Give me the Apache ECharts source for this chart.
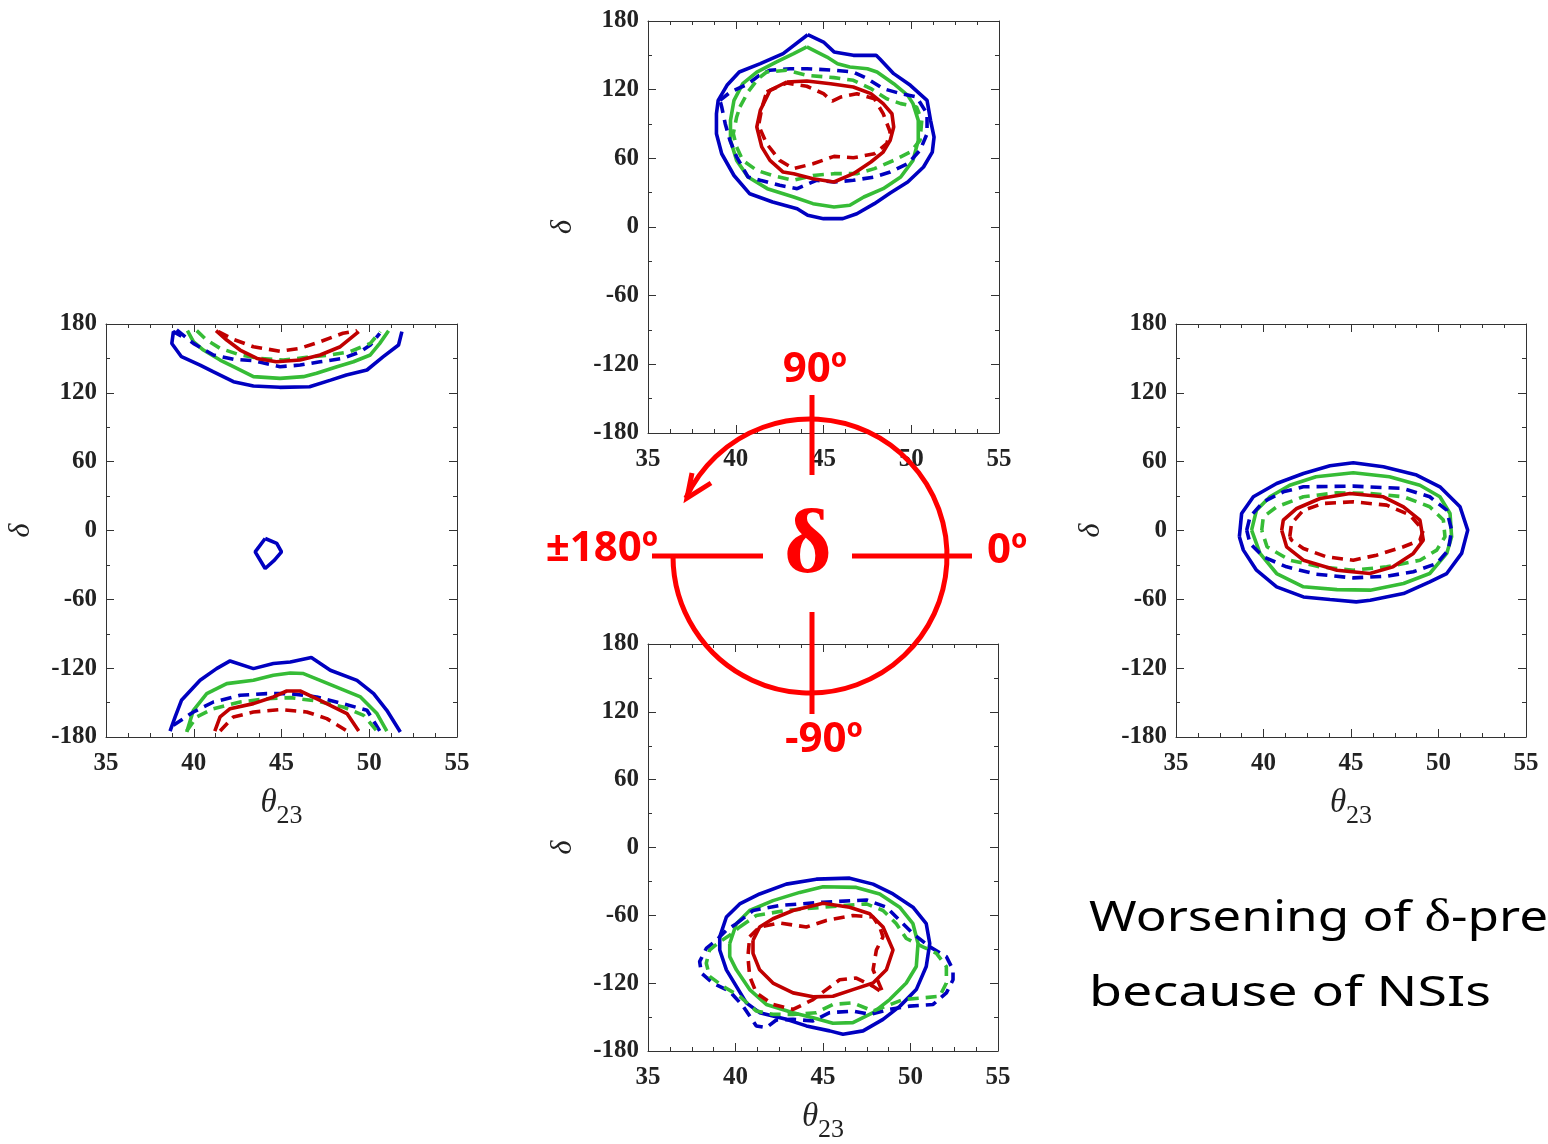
<!DOCTYPE html>
<html lang="en">
<head>
<meta charset="UTF-8">
<title>delta vs theta23</title>
<script src="https://cdn.jsdelivr.net/npm/echarts@6/dist/echarts.min.js"></script>
<style>
    html, body { margin: 0; padding: 0; background: #fff; }
    #chart { width: 1548px; height: 1144px; }
</style>
</head>
<body>
<div id="chart"></div>
<script>
// tick values shared by all four panels
const thetaTicks = [35, 40, 45, 50, 55];
const deltaTicks = [-180, -120, -60, 0, 60, 120, 180];

// top panel (true delta = 90)
const topBlueSolid = [[44.1,168],[42.7,151.5],[41.4,142.7],[40.2,135.4],[39.5,123.8],[39.0,110.7],[38.9,99],[38.9,81.5],[39.2,64],[39.9,45],[40.8,29],[42.1,21.8],[43.5,16],[44.1,10.2],[45.0,7.3],[46.1,7.3],[46.9,11.6],[47.9,20.4],[48.8,29.7],[49.8,39.3],[50.7,52.4],[51.2,65.5],[51.3,78.6],[51.1,93.2],[50.9,110.7],[49.95,123.8],[49.0,134],[48.2,147],[48.0,150],[46.7,150],[45.6,153],[45.0,161.6],[44.1,168]];
const topGreenSolid = [[44.05,157.3],[43.3,151.5],[42.3,144],[41.2,135.4],[40.4,125.2],[39.9,110.7],[39.7,93.2],[39.7,75.7],[40.05,58.2],[40.7,43.7],[41.8,33.5],[43.3,26.2],[44.4,20.4],[45.6,17.5],[46.5,19],[47.3,26.2],[48.4,33.5],[49.4,43.7],[50.1,58.2],[50.4,75.7],[50.4,93.2],[50.1,107.8],[49.8,115],[49.0,125.2],[48.05,135.4],[47.5,138.3],[46.5,139.8],[45.8,142.7],[45.2,148.5],[44.05,157.3]];
const topBlueDash = [[39.1,110.7],[39.7,118],[40.7,125],[41.3,132],[41.95,137],[43.1,138.3],[44.05,138.3],[45.6,137],[46.7,135.4],[47.5,129.6],[48.4,120.9],[49.4,116.5],[50.3,113.6],[50.9,99],[50.9,81.5],[50.5,67],[49.8,55.3],[48.8,48],[47.9,43.7],[46.7,40.8],[45.6,39.3],[44.6,40.8],[43.5,33.5],[42.5,36.4],[41.4,40.8],[40.7,43.7],[40.05,61.2],[39.67,75.7],[39.4,90.3],[39.2,104.9],[39.1,110.7]];
const topGreenDash = [[40.24,104.9],[40.7,118],[41.3,130],[41.76,135.4],[42.9,137],[44.05,132.5],[45.6,130.5],[46.7,128.2],[47.7,121],[48.6,112],[49.4,107.8],[50.3,104.9],[50.6,93.2],[50.5,75.7],[49.95,65.5],[49.0,58.2],[47.9,51],[46.9,46.6],[45.6,46.6],[44.4,45],[43.3,40.8],[42.1,45],[41.2,49.5],[40.4,58.2],[40.05,70],[39.86,81.5],[40.05,96.1],[40.24,104.9]];
const topRedSolid = [[42.9,126.7],[44.05,127.6],[45.4,125.2],[46.7,122.3],[47.7,116.5],[48.4,107.8],[48.9,99],[49.0,87.4],[48.8,75.7],[48.4,65.5],[47.7,56.8],[46.7,46.6],[45.6,39.3],[44.4,42.2],[43.3,46.6],[42.7,48],[41.95,58.2],[41.48,70],[41.2,87.4],[41.4,102],[41.95,119.4],[42.9,126.7]];
const topRedDash = [[41.76,118],[42.9,125.8],[44.05,123],[45.0,116.5],[45.5,110],[46.0,113.6],[46.9,116.5],[47.9,112],[48.4,99],[48.8,83],[48.6,72.8],[47.9,64],[46.7,60.5],[45.6,61.7],[44.4,55.3],[43.3,51],[42.5,58.2],[41.76,72.8],[41.3,88.8],[41.5,104.9],[41.76,118]];

// left panel (true delta = 180), upper and lower pieces plus a small island
const leftBlueSolidUp = [[39.3,169.5],[38.84,173.3],[38.75,163],[39.3,151.5],[40.36,144.2],[41.1,138.4],[42.26,129.7],[43.4,126],[44.9,124.8],[46.6,125.3],[47.8,131.1],[48.7,135.5],[49.87,139.9],[50.8,151.5],[51.67,161.7],[51.86,173.3]];
const leftGreenSolidUp = [[39.64,174.2],[39.98,164.6],[40.55,157.3],[41.5,148.6],[42.26,142.8],[43.4,134.1],[44.92,132.6],[46.25,134.1],[47.0,137],[48.16,142.8],[49.1,147.1],[50.06,153],[50.6,163.1],[51.1,174.2]];
const leftBlueDashUp = [[39.03,174.8],[39.98,163.1],[41.12,153],[42.26,149.2],[43.4,148],[44.92,142.8],[46.06,144.2],[47.2,147.1],[48.5,150],[49.5,155.9],[50.06,161.7],[50.6,171.9]];
const leftGreenDashUp = [[40.17,174.2],[40.74,166],[41.5,158.8],[42.64,153],[43.78,150],[45.1,148.6],[46.44,150.9],[47.78,153],[48.9,155.9],[50.06,163.1],[50.63,173.3]];
const leftRedSolidUp = [[41.27,174.2],[41.88,166],[42.64,157.3],[43.6,150],[44.7,147.1],[46.06,148.6],[47.2,153],[48.35,160.2],[49.4,173.3]];
const leftRedDashUp = [[41.4,173.3],[42.26,166.6],[43.4,160.2],[44.92,156.2],[46.06,158.8],[47.2,164.6],[48.5,171.9],[49.3,174.2]];
const leftBlueIsland = [[44.07,-7],[44.73,-11.3],[45.0,-18.6],[44.6,-25.9],[44.07,-33.1],[43.5,-18.6],[44.07,-7]];
const leftBlueSolidDown = [[38.65,-174.8],[38.94,-162.5],[39.3,-148],[40.36,-130.6],[41.3,-120.4],[42.07,-113.7],[43.4,-120.4],[44.54,-116],[45.5,-114.6],[46.7,-110.8],[47.78,-121.8],[49.3,-130.6],[50.25,-142.2],[51.0,-156.7],[51.77,-175.6]];
const leftGreenSolidDown = [[39.6,-175.6],[39.98,-156.7],[40.74,-142.2],[41.88,-133.5],[43.4,-130.6],[44.54,-126.2],[45.5,-124.2],[46.25,-124.7],[47.2,-130.6],[48.35,-137.8],[49.5,-145.1],[50.44,-159.6],[51.0,-174.8]];
const leftBlueDashDown = [[38.84,-169.8],[39.98,-158.2],[41.12,-149.5],[42.64,-143.6],[44.16,-142.2],[45.5,-142.2],[47.0,-145.1],[48.5,-150.9],[49.87,-156.7],[50.6,-174.8]];
const leftGreenDashDown = [[39.6,-174.8],[40.17,-162.5],[41.12,-155.3],[42.64,-149.5],[44.16,-146.6],[45.5,-145.7],[47.0,-148.6],[48.5,-153.8],[49.68,-161.1],[50.44,-174.8]];
const leftRedSolidDown = [[41.2,-174.8],[41.5,-162.5],[42.07,-155.3],[43.4,-150.9],[44.54,-145.1],[45.3,-139.9],[46.06,-139.9],[47.2,-148],[48.73,-159.6],[49.4,-174.8]];
const leftRedDashDown = [[41.5,-174.8],[42.26,-162.5],[43.4,-158.2],[44.92,-156.1],[46.44,-158.2],[47.58,-164],[48.73,-174.8]];

// right panel (true delta = 0)
const rightBlueSolid = [[38.62,-5.5],[38.75,14.8],[39.42,29.4],[40.75,41],[42.28,49.7],[43.8,56.4],[45.13,59],[46.85,55.5],[48.75,48.3],[50.08,38.1],[51.23,20.7],[51.67,0.3],[51.32,-20],[50.47,-37.5],[49.5,-44.8],[48.0,-55],[46.1,-60.8],[45.3,-62.2],[43.8,-60.2],[42.28,-57.9],[40.75,-49.1],[39.6,-34.6],[38.85,-17.1],[38.62,-5.5]];
const rightGreenSolid = [[39.32,0.3],[39.6,17.7],[40.37,29.4],[41.5,39.5],[43.0,46.8],[45.13,50.3],[47.2,46.8],[48.94,39.5],[50.08,29.4],[50.66,14.8],[50.75,-5.5],[50.47,-20],[49.5,-37.5],[48.0,-46.2],[46.1,-52],[44.2,-51.5],[42.28,-49.1],[40.75,-37.5],[39.8,-20],[39.32,0.3]];
const rightBlueDash = [[39.04,0.3],[39.23,11.9],[39.99,25],[41.13,33.7],[42.28,38.1],[45.13,38.7],[48.0,36.6],[49.5,29.4],[50.47,17.7],[50.75,0.3],[50.56,-17.1],[49.9,-28.8],[48.56,-36],[47.04,-39.8],[45.13,-41.3],[43.0,-38.1],[41.32,-31.7],[39.99,-23],[39.23,-11.3],[39.04,0.3]];
const rightGreenDash = [[39.9,0.3],[39.99,11.9],[40.75,20.6],[42.28,29.4],[44.2,32.9],[46.1,32.3],[48.0,29.4],[49.5,20.7],[50.28,9.1],[50.37,-5.5],[49.9,-17.1],[48.94,-25.9],[47.04,-31.7],[45.13,-34.6],[43.23,-31.7],[41.5,-25.9],[40.2,-14.2],[39.9,0.3]];
const rightRedSolid = [[41.04,0.3],[41.13,9],[41.9,19.2],[43.23,27.9],[44.94,32.3],[46.85,29.4],[48.0,20.6],[48.94,9],[49.13,-8.4],[48.56,-20],[47.4,-31.7],[46.07,-37.5],[44.2,-34.6],[42.28,-25.9],[41.32,-14.2],[41.04,0.3]];
const rightRedDash = [[41.5,-5.5],[41.6,6.1],[42.28,17.7],[43.42,23.6],[45.13,25],[47.04,22.1],[48.37,13.4],[49.13,0.3],[48.94,-8.4],[48.0,-14.2],[46.46,-21.5],[45.13,-25.9],[43.6,-23],[42.28,-15.7],[41.6,-8.4],[41.5,-5.5]];

// bottom panel (true delta = -90)
const bottomBlueSolid = [[39.1,-79],[39.48,-61.5],[40.24,-49.9],[41.38,-41.1],[42.9,-32.4],[44.62,-28],[46.52,-27.1],[47.86,-32.4],[49.0,-41.1],[50.14,-52.8],[50.9,-67.4],[51.1,-84.9],[50.9,-105.3],[50.33,-125.7],[49.4,-140.3],[48.43,-152],[47.29,-162.2],[46.14,-165.1],[45.38,-162.2],[44.05,-157.8],[42.9,-152],[41.38,-146.1],[40.62,-137.4],[40.05,-122.8],[39.48,-108.2],[39.1,-90.7],[39.1,-79]];
const bottomGreenSolid = [[39.67,-84.9],[40.05,-67.4],[40.81,-55.7],[42.14,-47],[43.67,-39.7],[45.0,-34.7],[46.9,-35.3],[48.24,-41.1],[49.38,-52.8],[50.14,-67.4],[50.43,-84.9],[50.33,-105.3],[49.76,-119.9],[48.81,-134.5],[47.86,-146.1],[46.71,-154.9],[45.57,-155.5],[44.43,-150.5],[43.29,-146.1],[41.76,-138.8],[40.81,-125.7],[40.05,-108.2],[39.67,-96.5],[39.67,-84.9]];
const bottomBlueDash = [[40.05,-67.4],[41.0,-55.7],[42.52,-51.3],[45.0,-48.4],[47.48,-46.4],[48.62,-52.8],[49.38,-64.5],[50.14,-76.1],[51.1,-87.8],[52.05,-96.5],[52.43,-108.2],[52.43,-117],[52.05,-128.6],[51.29,-138.8],[49.95,-140.3],[48.81,-143.2],[47.67,-147.6],[46.71,-144.7],[45.38,-146.1],[44.43,-153.4],[43.29,-152],[42.33,-152.6],[41.76,-159.3],[41.19,-157.8],[40.43,-140.3],[39.67,-127.2],[38.71,-119.9],[38.05,-111.1],[37.95,-100.9],[38.33,-89.3],[38.9,-82],[39.48,-73.2],[40.05,-67.4]];
const bottomGreenDash = [[40.24,-70.3],[41.19,-60.1],[42.9,-55.7],[45.0,-52.8],[47.48,-49.9],[48.43,-55.7],[49.19,-67.4],[49.76,-80.5],[50.71,-87.8],[51.48,-93.6],[52.05,-105.3],[52.05,-119.9],[51.67,-131.6],[50.71,-133],[49.57,-134.5],[48.62,-140.3],[47.86,-144.7],[46.71,-137.4],[45.57,-138.8],[44.62,-146.1],[43.29,-147.6],[42.14,-147.6],[41.19,-144.7],[40.24,-131.6],[39.29,-122.8],[38.52,-114],[38.33,-102.4],[38.52,-90.7],[39.1,-83.4],[39.67,-77.6],[40.24,-70.3]];
const bottomRedSolid = [[41.0,-82],[41.38,-70.3],[42.14,-63],[43.29,-55.7],[45.0,-49.3],[46.52,-52.8],[47.67,-58.6],[48.43,-70.3],[49.0,-90.7],[48.62,-108.2],[47.86,-119.9],[46.71,-125.7],[45.57,-131.6],[44.43,-132.1],[43.29,-128.6],[42.14,-119.9],[41.38,-108.2],[41.0,-93.6],[41.0,-82]];
const bottomRedDash = [[40.81,-79],[41.38,-70.3],[42.52,-66.8],[44.05,-70.3],[45.19,-64.5],[46.71,-60.1],[47.86,-61.5],[48.24,-70.3],[48.43,-79],[48.05,-90.7],[47.86,-108.2],[48.43,-128.6],[47.86,-122.8],[46.9,-115.5],[45.95,-117],[45.19,-125.7],[44.43,-134.5],[43.29,-143.2],[42.14,-138.8],[41.19,-128.6],[40.81,-114],[40.71,-96.5],[40.81,-79]];

const BLUE = '#0000c0';
const GREEN = '#36bc36';
const RED = '#c00000';
const AXIS = '#333';

const panels = [
    { left: 648, top: 21, width: 351, height: 412, xName: false },
    { left: 106, top: 324, width: 351, height: 413, xName: true },
    { left: 1176, top: 324, width: 350, height: 413, xName: true },
    { left: 648, top: 644, width: 350, height: 411, xName: true }
];

const contours = [
    [0, topBlueSolid, BLUE, false], [0, topGreenSolid, GREEN, false], [0, topBlueDash, BLUE, true],
    [0, topGreenDash, GREEN, true], [0, topRedSolid, RED, false], [0, topRedDash, RED, true],
    [1, leftBlueSolidUp, BLUE, false], [1, leftGreenSolidUp, GREEN, false], [1, leftBlueDashUp, BLUE, true],
    [1, leftGreenDashUp, GREEN, true], [1, leftRedSolidUp, RED, false], [1, leftRedDashUp, RED, true],
    [1, leftBlueIsland, BLUE, false],
    [1, leftBlueSolidDown, BLUE, false], [1, leftGreenSolidDown, GREEN, false], [1, leftBlueDashDown, BLUE, true],
    [1, leftGreenDashDown, GREEN, true], [1, leftRedSolidDown, RED, false], [1, leftRedDashDown, RED, true],
    [2, rightBlueSolid, BLUE, false], [2, rightGreenSolid, GREEN, false], [2, rightBlueDash, BLUE, true],
    [2, rightGreenDash, GREEN, true], [2, rightRedSolid, RED, false], [2, rightRedDash, RED, true],
    [3, bottomBlueSolid, BLUE, false], [3, bottomGreenSolid, GREEN, false], [3, bottomBlueDash, BLUE, true],
    [3, bottomGreenDash, GREEN, true], [3, bottomRedSolid, RED, false], [3, bottomRedDash, RED, true]
];

const tickFont = { fontFamily: 'Liberation Serif', fontWeight: 'bold', fontSize: 25, color: '#222' };
const tick = { inside: true, length: 8, lineStyle: { color: AXIS } };

const xAxes = [];
const yAxes = [];
panels.forEach(function (p, i) {
    ['bottom', 'top'].forEach(function (pos) {
        const main = pos === 'bottom';
        xAxes.push({
            type: 'value', gridIndex: i, position: pos,
            min: thetaTicks[0], max: thetaTicks[thetaTicks.length - 1],
            interval: thetaTicks[1] - thetaTicks[0],
            axisLine: { show: true, onZero: false, lineStyle: { color: AXIS } },
            axisTick: tick,
            minorTick: { show: true, splitNumber: 4, length: 4, lineStyle: { color: AXIS } },
            splitLine: { show: false },
            axisLabel: Object.assign({ show: main, margin: 14 }, tickFont),
            name: main && p.xName ? '{t|θ}{s|23}' : '',
            nameLocation: 'middle',
            nameGap: 40,
            nameTextStyle: {
                rich: {
                    t: { fontFamily: 'Liberation Serif', fontStyle: 'italic', fontSize: 33, color: '#222' },
                    s: { fontFamily: 'Liberation Serif', fontSize: 26, color: '#222', padding: [26, 0, 0, 0] }
                }
            }
        });
    });
    ['left', 'right'].forEach(function (pos) {
        const main = pos === 'left';
        yAxes.push({
            type: 'value', gridIndex: i, position: pos,
            min: deltaTicks[0], max: deltaTicks[deltaTicks.length - 1],
            interval: deltaTicks[1] - deltaTicks[0],
            axisLine: { show: true, onZero: false, lineStyle: { color: AXIS } },
            axisTick: tick,
            minorTick: { show: true, splitNumber: 2, length: 4, lineStyle: { color: AXIS } },
            splitLine: { show: false },
            axisLabel: Object.assign({ show: main, margin: 9 }, tickFont),
            name: main ? 'δ' : '',
            nameLocation: 'middle',
            nameGap: 70,
            nameRotate: 90,
            nameTextStyle: { fontFamily: 'Liberation Serif', fontStyle: 'italic', fontSize: 30, color: '#222' }
        });
    });
});

const series = contours.map(function (c) {
    return {
        type: 'line',
        xAxisIndex: c[0] * 2,
        yAxisIndex: c[0] * 2,
        data: c[1],
        showSymbol: false,
        symbol: 'none',
        silent: true,
        lineStyle: { color: c[2], width: 3.6, type: c[3] ? [11, 7] : 'solid' }
    };
});

// delta phase wheel drawn over the middle
const cx = 810, cy = 556, r = 137;
const redLabel = { fill: '#ff0000', fontFamily: 'Open Sans', fontWeight: 'bold', fontSize: 42 };
const textFont = { fontFamily: 'Noto Sans', fontSize: 42, fill: '#000' };
const graphic = [
    { type: 'arc', z: 100, shape: { cx: cx, cy: cy, r: r, startAngle: 205 * Math.PI / 180, endAngle: 540 * Math.PI / 180, clockwise: true },
      style: { stroke: '#ff0000', lineWidth: 5, fill: null } },
    { type: 'polyline', z: 100, shape: { points: [[711, 483], [687, 498], [692, 473]] },
      style: { stroke: '#ff0000', lineWidth: 5, fill: null } },
    { type: 'line', z: 100, shape: { x1: 652, y1: cy, x2: 763, y2: cy }, style: { stroke: '#ff0000', lineWidth: 5 } },
    { type: 'line', z: 100, shape: { x1: 852, y1: cy, x2: 972, y2: cy }, style: { stroke: '#ff0000', lineWidth: 5 } },
    { type: 'line', z: 100, shape: { x1: 812, y1: 395, x2: 812, y2: 475 }, style: { stroke: '#ff0000', lineWidth: 5 } },
    { type: 'line', z: 100, shape: { x1: 812, y1: 612, x2: 812, y2: 714 }, style: { stroke: '#ff0000', lineWidth: 5 } },
    { type: 'text', z: 100, x: 815, y: 370, style: Object.assign({ text: '90º', align: 'center', verticalAlign: 'middle' }, redLabel) },
    { type: 'text', z: 100, x: 824, y: 740, style: Object.assign({ text: '-90º', align: 'center', verticalAlign: 'middle' }, redLabel) },
    { type: 'text', z: 100, x: 658, y: 549, style: Object.assign({ text: '±180º', align: 'right', verticalAlign: 'middle' }, redLabel) },
    { type: 'text', z: 100, x: 987, y: 551, style: Object.assign({ text: '0º', align: 'left', verticalAlign: 'middle' }, redLabel) },
    { type: 'text', z: 100, x: 808, y: 548, style: { text: 'δ', align: 'center', verticalAlign: 'middle', fill: '#ff0000',
      fontFamily: 'Liberation Serif', fontWeight: 'bold', fontSize: 92 } },
    { type: 'text', z: 100, x: 1089, y: 919, scaleX: 1.22, style: {
        text: '{a|Worsening of }{d|δ}{a|-precision}', verticalAlign: 'middle',
        rich: { a: textFont, d: { fontFamily: 'Liberation Serif', fontSize: 46, fill: '#000' } } } },
    { type: 'text', z: 100, x: 1089, y: 994, scaleX: 1.28, style: Object.assign({ text: 'because of NSIs', verticalAlign: 'middle' }, textFont) }
];

const chart = echarts.init(document.getElementById('chart'));
chart.setOption({
    animation: false,
    backgroundColor: '#fff',
    grid: panels.map(function (p) {
        return { left: p.left, top: p.top, width: p.width, height: p.height, show: false };
    }),
    xAxis: xAxes,
    yAxis: yAxes,
    series: series,
    graphic: graphic
});
</script>
</body>
</html>
